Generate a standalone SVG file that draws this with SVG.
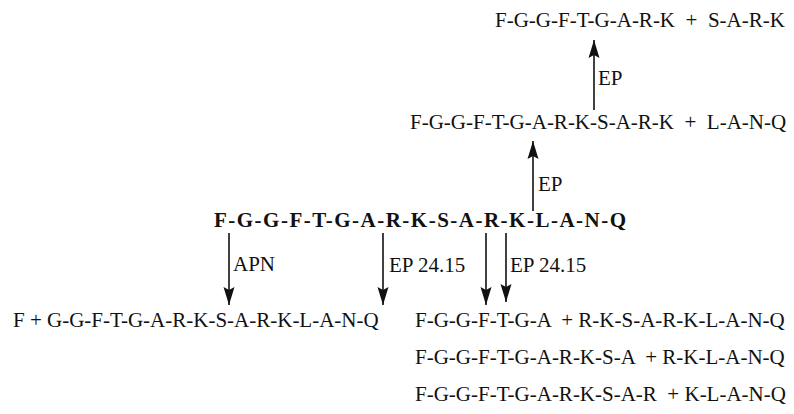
<svg xmlns="http://www.w3.org/2000/svg" width="794" height="414" viewBox="0 0 794 414">
  <style>
    text { font-family: "Liberation Serif", "Times New Roman", serif; font-size: 21px; fill: #111; white-space: pre; }
    .bold { font-weight: bold; }
    .conn line { stroke: #111; stroke-width: 1.6; fill: none; }
  </style>
  <defs>
    <marker id="head" markerUnits="userSpaceOnUse" markerWidth="22" markerHeight="14" viewBox="-20 -7 21 14" refX="0" refY="0" orient="auto">
      <path d="M0,0 L-18,-5.5 L-15,0 L-18,5.5 Z" fill="#111"/>
    </marker>
  </defs>

  <rect width="794" height="414" fill="#fff"/>

  <!-- peptide fragments -->
  <g id="top-products"><text x="495" y="27">F-G-G-F-T-G-A-R-K  +  S-A-R-K</text></g>
  <g id="ep-products"><text x="410" y="129">F-G-G-F-T-G-A-R-K-S-A-R-K  +  L-A-N-Q</text></g>
  <g id="substrate"><text class="bold" x="214" y="227" textLength="412" lengthAdjust="spacing">F-G-G-F-T-G-A-R-K-S-A-R-K-L-A-N-Q</text></g>
  <g id="apn-products"><text x="13" y="327">F + G-G-F-T-G-A-R-K-S-A-R-K-L-A-N-Q</text></g>
  <g id="ep2415-products-1"><text x="415" y="327">F-G-G-F-T-G-A  + R-K-S-A-R-K-L-A-N-Q</text></g>
  <g id="ep2415-products-2"><text x="415" y="364">F-G-G-F-T-G-A-R-K-S-A  + R-K-L-A-N-Q</text></g>
  <g id="ep2415-products-3"><text x="415" y="401">F-G-G-F-T-G-A-R-K-S-A-R  + K-L-A-N-Q</text></g>

  <!-- cleavage arrows -->
  <g class="conn" id="connectors">
    <line x1="594" y1="110" x2="594" y2="40" marker-end="url(#head)"/>
    <line x1="533" y1="211" x2="533" y2="141" marker-end="url(#head)"/>
    <line x1="229" y1="233" x2="229" y2="305" marker-end="url(#head)"/>
    <line x1="383" y1="233" x2="383" y2="305" marker-end="url(#head)"/>
    <line x1="486" y1="233" x2="486" y2="305" marker-end="url(#head)"/>
    <line x1="506" y1="233" x2="506" y2="302" marker-end="url(#head)"/>
  </g>

  <!-- enzyme labels -->
  <g id="labels">
    <text x="598" y="85">EP</text>
    <text x="538" y="191">EP</text>
    <text x="233" y="271">APN</text>
    <text x="389" y="272">EP 24.15</text>
    <text x="510" y="272">EP 24.15</text>
  </g>
</svg>
